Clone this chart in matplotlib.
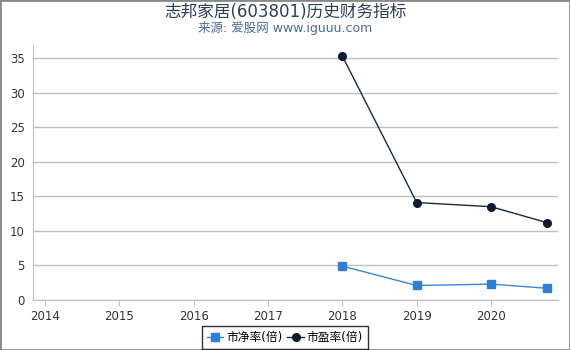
import matplotlib
matplotlib.use("Agg")
import matplotlib.pyplot as plt
from matplotlib.patches import Rectangle

# DejaVu for latin/digits, CJK family as fallback for the Chinese glyphs
plt.rcParams["font.family"] = ["DejaVu Sans", "Noto Sans CJK SC"]

# data
pb_x = [2018.0, 2019.0, 2020.0, 2020.75]
pb_vals = [4.9, 2.1, 2.3, 1.7]          # 市净率(倍)
pe_x = [2018.0, 2019.0, 2020.0, 2020.75]
pe_vals = [35.3, 14.1, 13.5, 11.2]      # 市盈率(倍)
years = [2014, 2015, 2016, 2017, 2018, 2019, 2020]
yticks = [0, 5, 10, 15, 20, 25, 30, 35]

fig = plt.figure(figsize=(5.7, 3.5), dpi=100)
ax = fig.add_axes([33 / 570, 1 - 300 / 350, 525 / 570, 255 / 350])

ax.plot(pb_x, pb_vals, color="#3a86d8", lw=1, marker="s", ms=5.5,
        mfc="#2f7fd8", mec="#2f7fd8", label="市净率(倍)")
ax.plot(pe_x, pe_vals, color="#1b2a40", lw=1, marker="o", ms=5.5,
        mfc="#0f1c30", mec="#0f1c30", label="市盈率(倍)")

ax.set_xlim(2013.84, 2020.9)
ax.set_ylim(0, 36.9)
ax.set_xticks(years)
ax.set_xticklabels([str(y) for y in years])
ax.set_yticks(yticks)
ax.grid(axis="y", color="#c0c0c0", lw=1)
ax.set_axisbelow(True)
for s in ("top", "right"):
    ax.spines[s].set_visible(False)
for s in ("left", "bottom"):
    ax.spines[s].set_color("#c0c0c0")
ax.tick_params(colors="#c0c0c0", labelcolor="#333333", labelsize=8.5, length=4)
ax.tick_params(axis="y", length=0, pad=6)

fig.text(0.5, 0.967, "志邦家居(603801)历史财务指标", ha="center", va="center",
         fontsize=12, color="#2b3f5c")
fig.text(0.5, 0.92, "来源: 爱股网 www.iguuu.com", ha="center", va="center",
         fontsize=9, color="#4a6a95")

leg = fig.legend(loc="center", bbox_to_anchor=(0.5, 0.966 - 0.93),
                 ncol=2, fontsize=8.5, frameon=True, fancybox=False,
                 handlelength=1.4, handletextpad=0.25, columnspacing=0.4,
                 borderpad=0.4, borderaxespad=0.2)
leg.get_frame().set_edgecolor("black")
leg.get_frame().set_linewidth(1)

fig.patches.append(Rectangle((0, 0), 1, 1, transform=fig.transFigure,
                             fill=False, edgecolor="#888888", lw=2))

fig.savefig("out.png", dpi=100)
